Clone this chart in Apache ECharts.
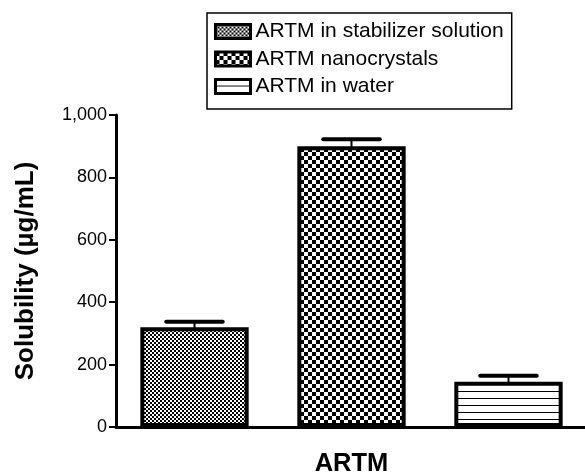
<!DOCTYPE html>
<html>
<head>
<meta charset="utf-8">
<script src="https://cdn.jsdelivr.net/npm/echarts@6/dist/echarts.min.js"></script>
<style>
  html, body { margin: 0; padding: 0; background: #fff; }
  #chart { width: 585px; height: 474px; }
</style>
</head>
<body>
<div id="chart"></div>
<script>
// 数据
const categories = ['ARTM in stabilizer solution', 'ARTM nanocrystals', 'ARTM in water']
const means = [320, 900, 145]
const errors = [17, 22, 19]
const yTicks = [0, 200, 400, 600, 800, 1000]

// 填充图案
function checker(size) {
  let c = document.createElement('canvas')
  c.width = size * 2
  c.height = size * 2
  let ctx = c.getContext('2d')
  ctx.fillStyle = '#fff'
  ctx.fillRect(0, 0, c.width, c.height)
  ctx.fillStyle = '#000'
  ctx.fillRect(0, 0, size, size)
  ctx.fillRect(size, size, size, size)
  return c
}
function hlines(gap) {
  let c = document.createElement('canvas')
  c.width = 8
  c.height = gap
  let ctx = c.getContext('2d')
  ctx.fillStyle = '#fff'
  ctx.fillRect(0, 0, c.width, c.height)
  ctx.fillStyle = '#000'
  ctx.fillRect(0, gap - 1, c.width, 1)
  return c
}
const patterns = [checker(2), checker(4), hlines(7)]

;(function () {
  let myChart = echarts.init(document.getElementById('chart'))

  let barSeries = categories.map(function (name, i) {
    return {
      name: name,
      type: 'bar',
      barWidth: '69%',
      barGap: '-100%',
      data: categories.map(function (c, j) { return j === i ? means[i] : '-' }),
      itemStyle: {
        color: { image: patterns[i], repeat: 'repeat' },
        borderColor: '#000',
        borderWidth: 4
      },
      z: 2
    }
  })

  let option = {
    animation: false,
    textStyle: { fontFamily: 'Liberation Sans, Arial, sans-serif' },
    legend: {
      orient: 'vertical',
      left: 207,
      top: 13,
      width: 310,
      padding: [8, 8, 12, 7],
      itemGap: 6.5,
      itemWidth: 35,
      itemHeight: 14,
      icon: 'rect',
      borderColor: '#000',
      borderWidth: 1.5,
      itemStyle: { borderColor: '#000', borderWidth: 3 },
      textStyle: { fontSize: 21, color: '#000', fontFamily: 'Liberation Sans, Arial, sans-serif' },
      data: categories
    },
    grid: {
      left: 116,
      right: -2,
      top: 115,
      bottom: 47,
      containLabel: false,
      outerBoundsMode: 'none'
    },
    xAxis: {
      type: 'category',
      data: ['ARTM', 'ARTM ', 'ARTM  '],
      name: 'ARTM',
      nameLocation: 'middle',
      nameGap: 24,
      nameTextStyle: { fontSize: 25.5, fontWeight: 'bold', color: '#000' },
      axisLabel: { show: false },
      axisTick: { alignWithLabel: true, length: 8, lineStyle: { color: '#000', width: 2 } },
      axisLine: { lineStyle: { color: '#000', width: 3 } }
    },
    yAxis: {
      type: 'value',
      min: yTicks[0],
      max: yTicks[yTicks.length - 1],
      interval: 200,
      name: 'Solubility (µg/mL)',
      nameLocation: 'middle',
      nameGap: 77,
      nameTextStyle: { fontSize: 26, fontWeight: 'bold', color: '#000' },
      axisLabel: {
        fontSize: 18,
        color: '#000',
        margin: 9,
        formatter: function (v) { return v.toLocaleString('en-US') }
      },
      axisTick: { show: true, length: 7, lineStyle: { color: '#000', width: 2 } },
      axisLine: { show: true, lineStyle: { color: '#000', width: 3 } },
      splitLine: { show: false }
    },
    series: barSeries.concat([{
      type: 'custom',
      name: 'error',
      data: means.map(function (m, i) { return [i, m - errors[i], m + errors[i]] }),
      renderItem: function (params, api) {
        let lo = api.coord([api.value(0), api.value(1)])
        let hi = api.coord([api.value(0), api.value(2)])
        let half = api.size([1, 0])[0] * 0.18
        let style = { stroke: '#000', lineWidth: 4, lineCap: 'round' }
        return {
          type: 'group',
          children: [
            { type: 'line', shape: { x1: hi[0], y1: lo[1], x2: hi[0], y2: hi[1] }, style: { stroke: '#000', lineWidth: 2 } },
            { type: 'line', shape: { x1: hi[0] - half, y1: hi[1], x2: hi[0] + half, y2: hi[1] }, style: style },
            { type: 'line', shape: { x1: lo[0] - half, y1: lo[1], x2: lo[0] + half, y2: lo[1] }, style: style }
          ]
        }
      },
      z: 1
    }])
  }

  myChart.setOption(option)
})();
</script>
</body>
</html>
